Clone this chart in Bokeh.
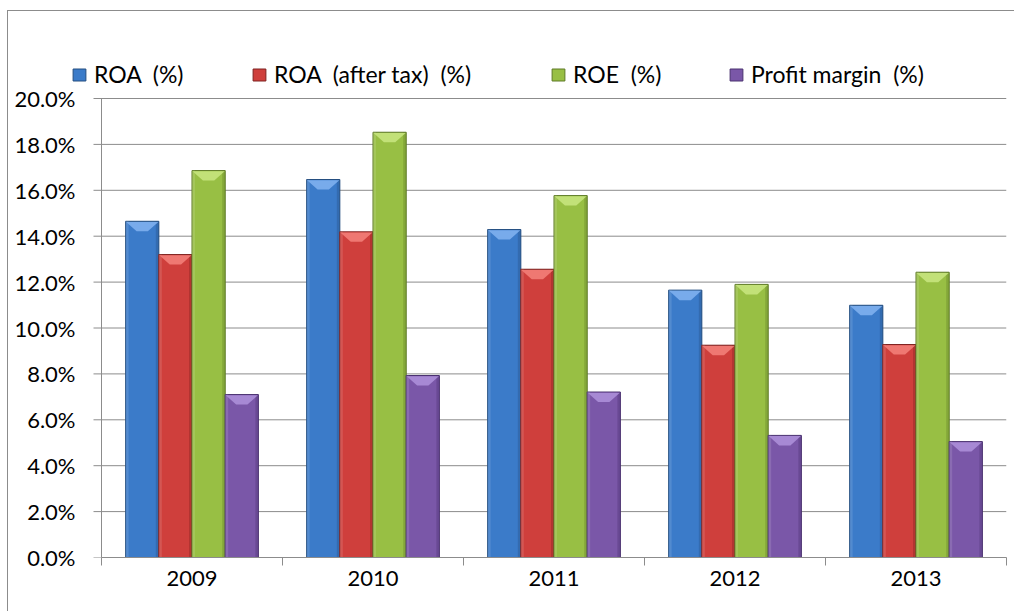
from bokeh.plotting import figure
from bokeh.models import FixedTicker, Legend, LegendItem, ColumnDataSource, Range1d
from bokeh.embed import file_html
from bokeh.resources import INLINE

# ---- data ----
years = ["2009", "2010", "2011", "2012", "2013"]
roa = [14.65, 16.47, 14.29, 11.65, 10.99]
roa_after_tax = [13.20, 14.19, 12.56, 9.25, 9.28]
roe = [16.86, 18.53, 15.77, 11.90, 12.43]
profit_margin = [7.10, 7.93, 7.21, 5.32, 5.05]
series_names = ["ROA \u00a0(%)", "ROA \u00a0(after tax) \u00a0(%)", "ROE \u00a0(%)",
                "Profit margin \u00a0(%)"]
y_ticks = [0, 2, 4, 6, 8, 10, 12, 14, 16, 18, 20]
y_tick_labels = ["0.0%", "2.0%", "4.0%", "6.0%", "8.0%", "10.0%", "12.0%",
                 "14.0%", "16.0%", "18.0%", "20.0%"]

# ---- styling ----
colors = ["#3B7BC9", "#CF3F3C", "#98BF44", "#7A57A8"]
edges = ["#244E80", "#7E2220", "#5E7A26", "#4A3270"]
tops = ["#7FB0EE", "#F27E78", "#C6E47E", "#AC8FD8"]
GRID = "#8c8c8c"
FONT = "Lato"
FS = "22px"

series = [roa, roa_after_tax, roe, profit_margin]
offsets = [-0.275, -0.0917, 0.0917, 0.275]
bar_w = 0.1835
n = len(years)

# layout (pixels): value axis at x=101, 0% at y=557, 20% at y=98,
# one category = 181 px; frame extended up/left to leave room for the legend
cat_px = 181.0
val_px = 459.0 / 20
frame_left, frame_top = 60, 40
x_lo = -(101 - frame_left) / cat_px
y_max = (557 - frame_top) / val_px
tick_len = 8 / cat_px

p = figure(width=1007, height=601, output_backend="svg", toolbar_location=None,
           x_range=Range1d(x_lo, n), y_range=Range1d(0, y_max),
           min_border_left=frame_left - 8, min_border_right=9,
           min_border_top=frame_top - 11, min_border_bottom=55,
           background_fill_color="white", border_fill_color="white",
           styles={"margin-left": "7px", "margin-top": "10px",
                   "border-left": "1px solid #8c8c8c",
                   "border-top": "1px solid #8c8c8c"})
p.outline_line_color = None
p.xgrid.grid_line_color = None
p.ygrid.grid_line_color = None

# horizontal gridlines with their outward tick marks
p.segment(x0=[-tick_len] * len(y_ticks), y0=y_ticks, x1=[n] * len(y_ticks),
          y1=y_ticks, line_color=GRID, line_width=1)
# value axis line
p.segment(x0=[0], y0=[0], x1=[0], y1=[y_ticks[-1]], line_color=GRID, line_width=1)

side = 3 / cat_px          # width of the shaded side faces
bevel_h = 10 / val_px      # height of the top bevel
renderers = []
for k, vals in enumerate(series):
    xs = [i + 0.5 + offsets[k] for i in range(n)]
    src = ColumnDataSource(dict(x=xs, top=vals))
    r = p.vbar(x="x", top="top", width=bar_w, bottom=0, source=src,
               fill_color=colors[k], line_color=edges[k], line_width=1)
    renderers.append(r)
    # darker right face, lighter left face
    p.vbar(x=[x + bar_w / 2 - side / 2 for x in xs], top=vals, width=side,
           fill_color=edges[k], fill_alpha=0.35, line_color=None)
    p.vbar(x=[x - bar_w / 2 + side / 2 for x in xs], top=vals, width=side,
           fill_color="white", fill_alpha=0.12, line_color=None)
    # bevel highlight at the top of each bar
    d = bar_w * 0.33
    pxs, pys = [], []
    for x, t in zip(xs, vals):
        x0, x1 = x - bar_w / 2, x + bar_w / 2
        pxs.append([x0 + 0.003, x1 - 0.003, x1 - d, x0 + d])
        pys.append([t - 0.03, t - 0.03, t - bevel_h, t - bevel_h])
    p.patches(pxs, pys, fill_color=tops[k], line_color=None, fill_alpha=0.9)

# ---- axes ----
p.xaxis.bounds = (0, n)
p.xaxis.ticker = FixedTicker(ticks=[i + 0.5 for i in range(n)],
                             minor_ticks=list(range(n + 1)))
p.xaxis.major_label_overrides = {i + 0.5: y for i, y in enumerate(years)}
p.xaxis.major_tick_line_color = None
p.xaxis.minor_tick_line_color = GRID
p.xaxis.minor_tick_in = 0
p.xaxis.minor_tick_out = 8
p.xaxis.axis_line_color = GRID
p.xaxis.major_label_standoff = 5
p.xaxis.major_label_text_font = FONT
p.xaxis.major_label_text_font_size = FS
p.xaxis.major_label_text_color = "black"

p.yaxis.ticker = FixedTicker(ticks=y_ticks, minor_ticks=[])
p.yaxis.major_label_overrides = {t: l for t, l in zip(y_ticks, y_tick_labels)}
p.yaxis.major_tick_line_color = None
p.yaxis.minor_tick_line_color = None
p.yaxis.major_tick_in = 0
p.yaxis.major_tick_out = 0
p.yaxis.axis_line_color = None
p.yaxis.major_label_standoff = -15
p.yaxis.major_label_text_font = FONT
p.yaxis.major_label_text_font_size = FS
p.yaxis.major_label_text_color = "black"

# ---- legends (one per item, placed along the top) ----
leg_x = [11, 191, 490, 668]
for k in range(4):
    leg = Legend(items=[LegendItem(label=series_names[k], renderers=[renderers[k]])],
                 location=(leg_x[k], 469), orientation="horizontal",
                 glyph_width=16, glyph_height=15, label_standoff=7,
                 padding=0, margin=0, border_line_color=None,
                 background_fill_alpha=0, label_text_font=FONT,
                 label_text_font_size="23px", label_text_color="black")
    p.add_layout(leg, "center")

open("out.html", "w").write(file_html(p, INLINE))
